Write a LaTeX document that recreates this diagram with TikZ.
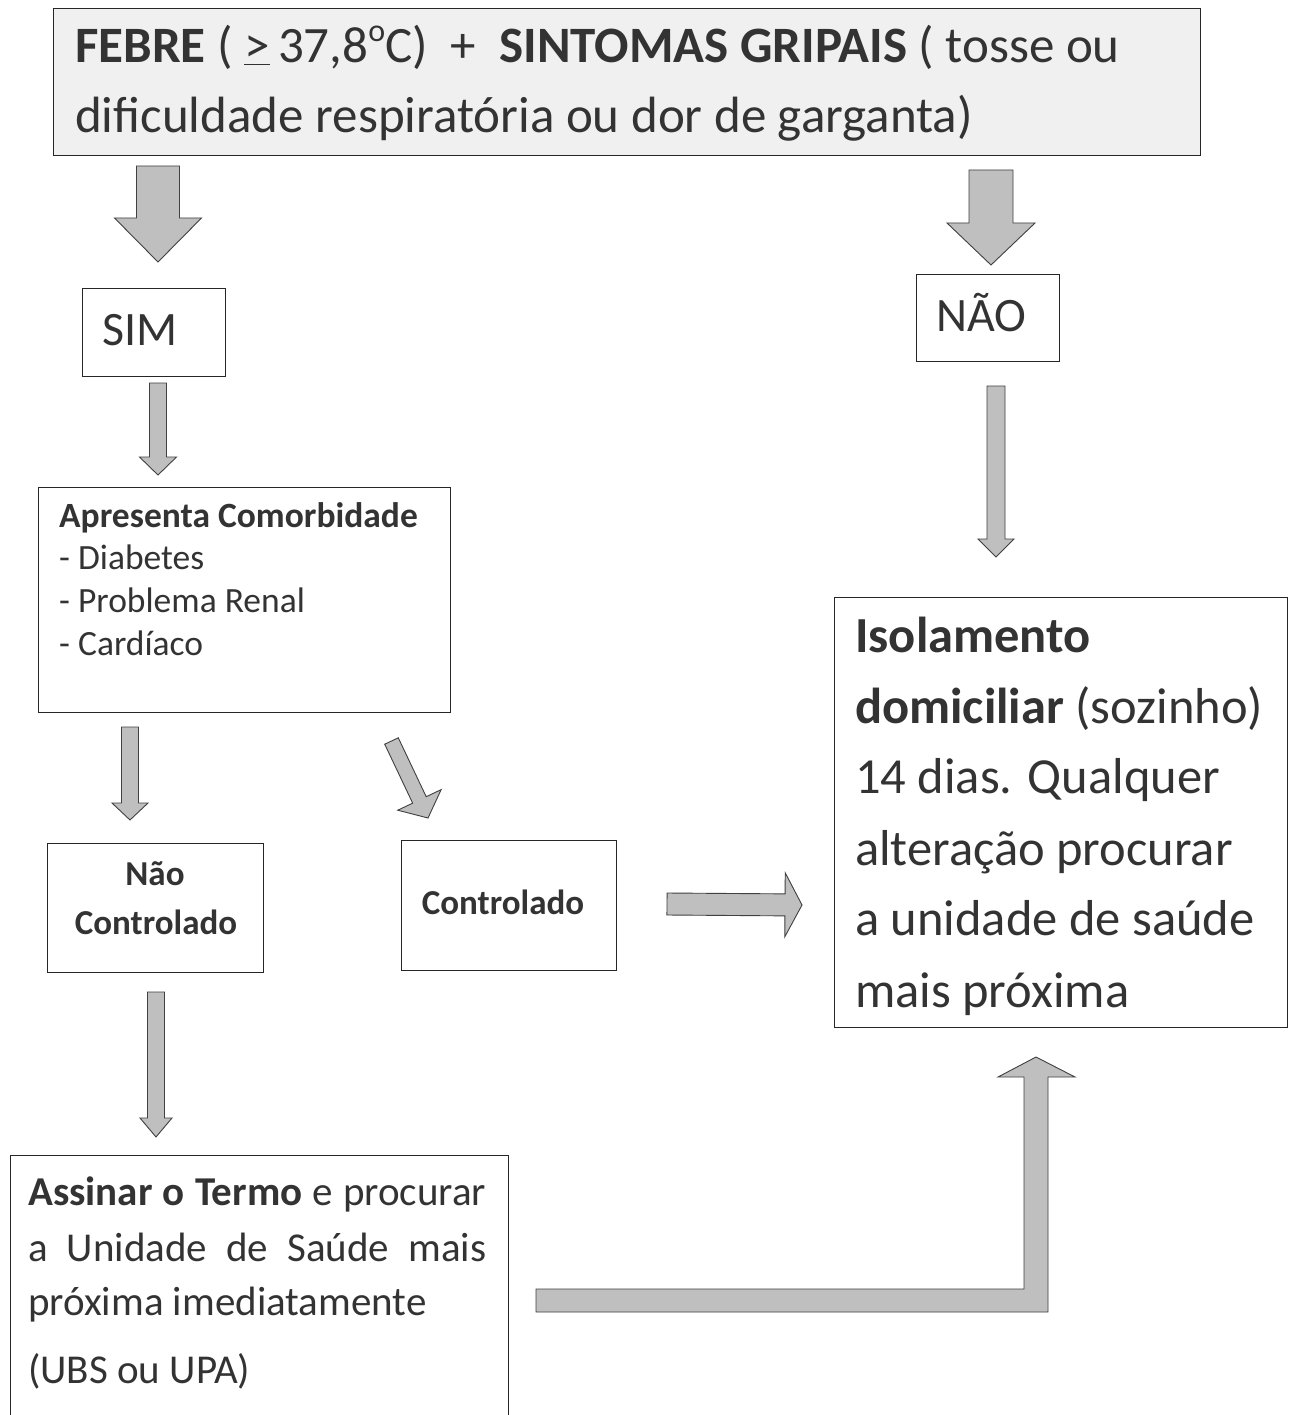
\documentclass[tikz,border=0pt]{standalone}
\usepackage{fontspec}
\setmainfont{Carlito}
\usetikzlibrary{calc}
\definecolor{ink}{gray}{0.2}
\definecolor{arrowfill}{gray}{0.75}
\definecolor{boxshade}{gray}{0.94}
\tikzset{
  box/.style={draw=black!85, line width=1.1pt, inner sep=0pt, anchor=north west},
  barrow/.style={draw=black!75, fill=arrowfill, line width=0.9pt, line join=miter},
  txt/.style={inner sep=0pt, anchor=base west, text=ink},
  ctxt/.style={inner sep=0pt, anchor=base, text=ink},
}
% block arrow from #1 to #2: half shaft width #3, half head width #4, head length #5
\newcommand\blockarr[5]{%
  \coordinate (ba-h) at ($(#2)!#5!(#1)$);
  \draw[barrow] ($(#1)!#3!90:(#2)$) -- ($(ba-h)!#3!90:(#2)$) -- ($(ba-h)!#4!90:(#2)$)
    -- (#2) -- ($(ba-h)!#4!-90:(#2)$) -- ($(ba-h)!#3!-90:(#2)$) -- ($(#1)!#3!-90:(#2)$) -- cycle;
}
\begin{document}
\begin{tikzpicture}[x=1pt,y=-1pt]
\useasboundingbox (0,0) rectangle (1296,1415);
\clip (0,0) rectangle (1296,1415);
\fill[white] (0,0) rectangle (1296,1415);

% boxes
\node[box, fill=boxshade, minimum width=1147pt, minimum height=147pt] (top) at (53,8) {};
\node[box, minimum width=143pt, minimum height=88pt] (sim) at (82,288) {};
\node[box, minimum width=143pt, minimum height=87pt] (nao) at (916,274) {};
\node[box, minimum width=412pt, minimum height=225pt] (comorb) at (38,487) {};
\node[box, minimum width=216pt, minimum height=129pt] (nc) at (47,843) {};
\node[box, minimum width=215pt, minimum height=130pt] (ctrl) at (401,840) {};
\node[box, minimum width=453pt, minimum height=430pt] (isol) at (834,597) {};
\node[box, minimum width=498pt, minimum height=280pt] (assinar) at (10,1155) {};

% texts
\begin{scope}[font=\fontsize{51}{60}\selectfont]
\node[txt] (t1) at (75,63) {\textbf{FEBRE} ( \underline{>}\,37,8\raisebox{0.42em}{\fontsize{32}{32}\selectfont o}C) \ + \ \textbf{SINTOMAS GRIPAIS} ( tosse ou};
\node[txt] (t2) at (75,133) {dificuldade respiratória ou dor de garganta)};
\end{scope}
\node[txt, font=\fontsize{48}{56}\selectfont] (simt) at (102,345) {SIM};
\node[txt, font=\fontsize{48}{56}\selectfont] (naot) at (936,331) {NÃO};
\begin{scope}[font=\fontsize{35.5}{42}\selectfont]
\node[txt] (c1) at (59,527) {\textbf{Apresenta Comorbidade}};
\node[txt] (c2) at (59,569) {- Diabetes};
\node[txt] (c3) at (59,612) {- Problema Renal};
\node[txt] (c4) at (59,655) {- Cardíaco};
\end{scope}
\begin{scope}[font=\fontsize{35}{42}\selectfont\bfseries]
\node[ctxt] (nc1) at (155,885) {Não};
\node[ctxt] (nc2) at (156,934) {Controlado};
\node[ctxt] (ct1) at (503,914) {Controlado};
\end{scope}
\begin{scope}[font=\fontsize{50.5}{60}\selectfont]
\node[txt] (i1) at (855,652) {\textbf{Isolamento}};
\node[txt] (i2) at (855,723) {\textbf{domiciliar} (sozinho)};
\node[txt] (i3) at (855,793) {14 dias. Qualquer};
\node[txt] (i4) at (855,865) {alteração procurar};
\node[txt] (i5) at (855,935) {a unidade de saúde};
\node[txt] (i6) at (855,1007) {mais próxima};
\end{scope}
\begin{scope}[font=\fontsize{41}{48}\selectfont]
\node[txt] (a1) at (28,1205) {\makebox[458pt][s]{\textbf{Assinar o Termo} e procurar}};
\node[txt] (a2) at (28,1261) {\makebox[458pt][s]{a Unidade de Saúde mais}};
\node[txt] (a3) at (28,1315) {próxima imediatamente};
\node[txt] (a4) at (28,1383) {(UBS ou UPA)};
\end{scope}

% arrow end points
\coordinate (e1s) at (158,166);  \coordinate (e1e) at (158,262);
\coordinate (e2s) at (991,170);  \coordinate (e2e) at (991,265);
\coordinate (e3s) at (158,383);  \coordinate (e3e) at (158,475);
\coordinate (e4s) at (996,386);  \coordinate (e4e) at (996,557);
\coordinate (e5s) at (130,727);  \coordinate (e5e) at (130,820);
\coordinate (e6s) at (391.5,741); \coordinate (e6e) at (428,818);
\coordinate (e7s) at (667,904);  \coordinate (e7e) at (802,905);
\coordinate (e8s) at (156,992);  \coordinate (e8e) at (156,1137);

\blockarr{e1s}{e1e}{21.5pt}{43.5pt}{44pt}
\blockarr{e2s}{e2e}{22pt}{44pt}{42pt}
\blockarr{e3s}{e3e}{8.5pt}{18.5pt}{18pt}
\blockarr{e4s}{e4e}{9pt}{18pt}{18pt}
\blockarr{e5s}{e5e}{8.5pt}{18pt}{17pt}
\blockarr{e6s}{e6e}{7.5pt}{24pt}{20pt}
\blockarr{e7s}{e7e}{11pt}{32pt}{17pt}
\blockarr{e8s}{e8e}{8.5pt}{16pt}{19pt}

% bent arrow from Assinar to Isolamento
\coordinate (btip) at (1036,1057);
\draw[barrow] (536,1289) -- (1024,1289) -- (1024,1077) -- (998,1077) -- (btip)
  -- (1075,1077) -- (1048,1077) -- (1048,1312) -- (536,1312) -- cycle;
\end{tikzpicture}
\end{document}
